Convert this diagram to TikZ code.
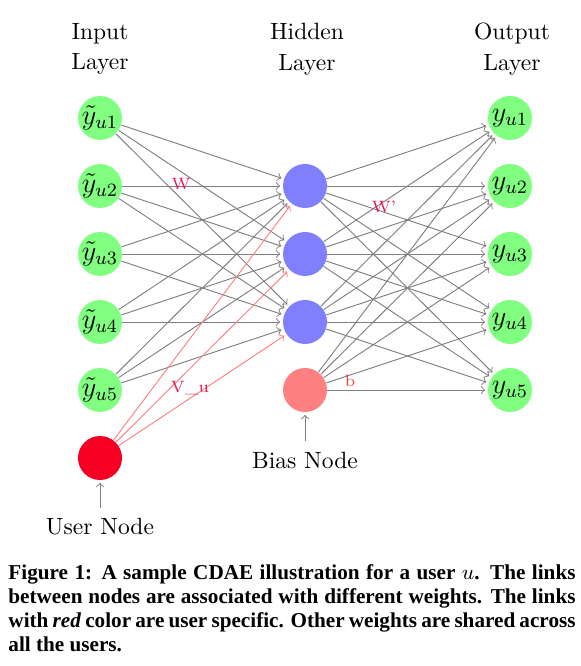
\documentclass[tikz,border=0pt]{standalone}
\usepackage{amsmath}
\usepackage{fontspec}
\newfontfamily\capfont{Liberation Serif}
\usetikzlibrary{arrows}

\definecolor{usercol}{RGB}{245,0,35}
\definecolor{wcol}{RGB}{225,25,85}
\definecolor{bcol}{RGB}{235,70,70}

\tikzset{
  neuron/.style={circle, minimum size=18.7pt, inner sep=0pt, font=\large},
  io neuron/.style={neuron, fill=green!50},
  hidden neuron/.style={neuron, fill=blue!50},
  bias neuron/.style={neuron, fill=red!50},
  user neuron/.style={neuron, fill=usercol},
  link/.style={->, draw=black!50, shorten >=1pt},
  user link/.style={->, draw=red!50, shorten >=1pt},
  pin link/.style={->, draw=black!50, shorten >=1pt, shorten <=1pt},
  weight/.style={font=\scriptsize, text=wcol, inner sep=1pt},
  caption/.style={anchor=north west, inner sep=0pt, text width=241pt, align=justify,
    font=\capfont\bfseries\fontsize{9}{10.2}\selectfont}
}

\begin{document}
\begin{tikzpicture}[x=0.425pt, y=-0.425pt]
\useasboundingbox (0,0) rectangle (581,666);

% layer titles
\node[align=center] (inlabel) at (100,49) {Input\\[1pt]Layer};
\node[align=center] (hidlabel) at (307,49) {Hidden\\[1pt]Layer};
\node[align=center] (outlabel) at (512,49) {Output\\[1pt]Layer};

% neurons
\foreach \i in {1,...,5} {
  \node[io neuron] (I-\i) at (100,50+68*\i) {$\tilde{y}_{u\i}$};
  \node[io neuron] (O-\i) at (510,50+68*\i) {$y_{u\i}$};
}
\foreach \j in {1,2,3}
  \node[hidden neuron] (H-\j) at (305,118+68*\j) {};
\node[bias neuron] (B) at (305,390) {};
\node[user neuron] (U) at (100,458) {};

% connections
\foreach \i in {1,...,5}
  \foreach \j in {1,2,3}
    \draw[link] (I-\i) -- (H-\j);
\foreach \j in {1,2,3}
  \foreach \k in {1,...,5}
    \draw[link] (H-\j) -- (O-\k);
\foreach \k in {1,...,5}
  \draw[link] (B) -- (O-\k);
\foreach \j in {1,2,3}
  \draw[user link] (U) -- (H-\j);

% weight labels
\node[weight] (w-in) at (181,184) {W};
\node[weight] (w-out) at (384,207) {W'};
\node[weight] (w-user) at (190,388) {V\_u};
\node[weight, text=bcol] (w-bias) at (350,381) {b};

% pins
\node (userpin) at (100,527) {User Node};
\draw[pin link] (userpin) -- (U);
\node (biaspin) at (305,460) {Bias Node};
\draw[pin link] (biaspin) -- (B);

% caption
\node[caption] (cap) at (8,564) {Figure 1: A sample CDAE illustration for a user $u$. The links\linebreak
between nodes are associated with different weights. The links\linebreak
with \textit{red} color are user specific. Other weights are shared across\linebreak
all the users.};
\end{tikzpicture}
\end{document}
